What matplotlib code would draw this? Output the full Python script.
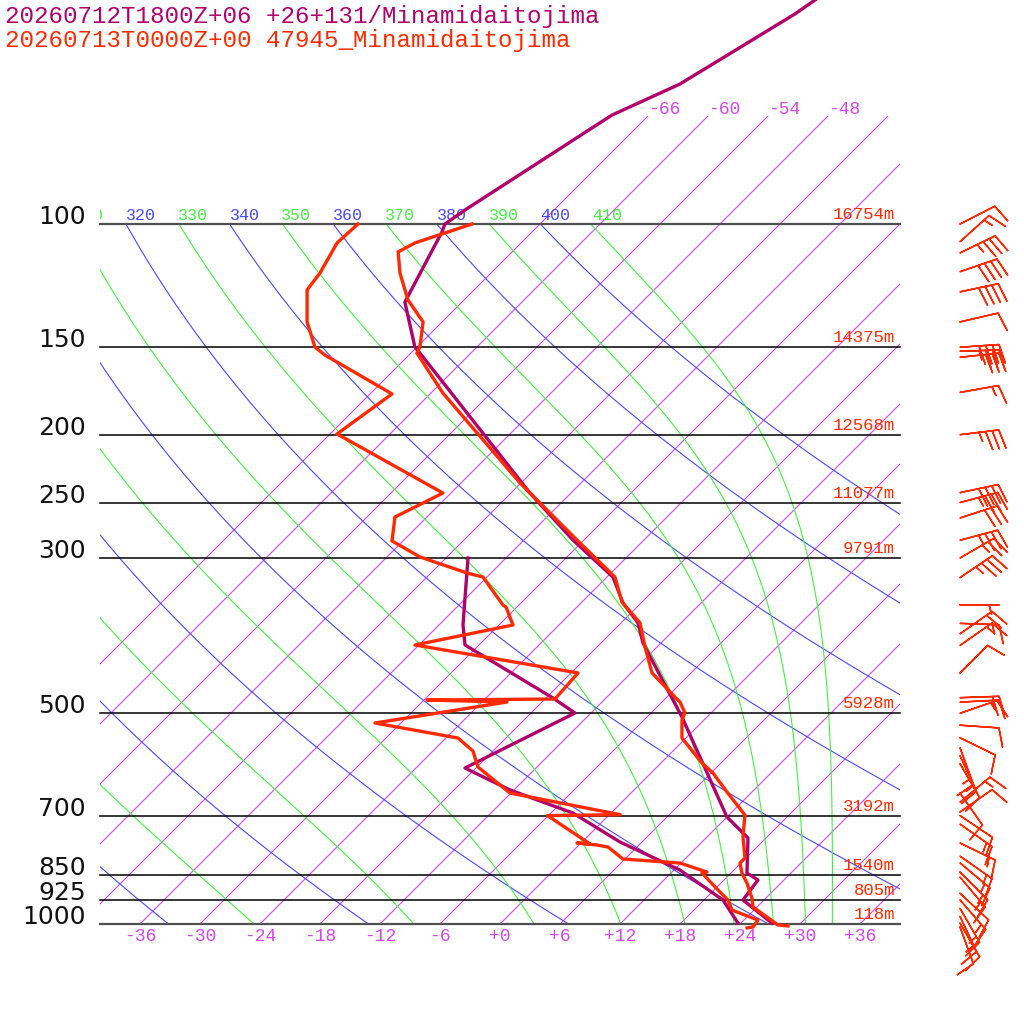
import numpy as np
import matplotlib
matplotlib.use('Agg')
import matplotlib.pyplot as plt
from matplotlib.patches import Rectangle

# ---- values ----
title_model = '20260712T1800Z+06 +26+131/Minamidaitojima'
title_obs = '20260713T0000Z+00 47945_Minamidaitojima'

levels = [100, 150, 200, 250, 300, 500, 700, 850, 925, 1000]
heights = ['16754m', '14375m', '12568m', '11077m', '9791m',
           '5928m', '3192m', '1540m', '805m', '118m']

# model (purple) temperature
model_p = [47.5, 50.1, 63.1, 69.9, 95.5, 100.0, 102.7, 129.3, 149.9, 152.9,
           169.8, 242.3, 282.8, 319.4, 347.9, 371.5, 396.8, 506.2, 703.4,
           753.6, 845.7, 865.4, 924.2, 996.9]
model_t = [-60.8, -61.5, -66.0, -69.7, -74.9, -75.5, -75.0, -71.7, -66.2, -65.1,
           -59.4, -40.1, -31.1, -23.4, -19.8, -16.3, -13.8, -2.5, 12.0,
           16.2, 19.6, 21.4, 21.9, 27.1]
# model dewpoint
model_td_p = [300.0, 374.0, 399.4, 475.5, 499.6, 598.7, 643.5, 694.2, 763.6,
              837.4, 924.2, 996.9]
model_td = [-39.8, -33.6, -31.4, -17.3, -13.6, -19.1, -12.4, -3.8, 3.8,
            12.6, 19.9, 23.7]

# observed (red) temperature
obs_p = [100.0, 106.4, 109.6, 117.5, 128.4, 138.0, 149.9, 152.9, 174.4, 234.4,
         282.8, 319.4, 346.8, 371.5, 402.0, 437.9, 474.0, 481.8, 499.6, 511.2,
         542.4, 588.9, 608.6, 647.8, 698.8, 751.2, 804.9, 818.3, 845.7, 874.0,
         918.1, 945.7, 1003.3, 1006.6]
obs_t = [-72.8, -76.6, -77.4, -75.1, -71.6, -67.9, -65.7, -65.4, -58.8, -42.1,
         -30.7, -23.2, -20.0, -16.1, -13.2, -9.9, -5.2, -4.2, -2.6, -2.2,
         -0.4, 4.1, 6.2, 9.5, 13.6, 15.6, 17.9, 17.9, 19.1, 20.6,
         22.6, 23.6, 27.9, 29.0]
# observed dewpoint
obs_td_p = [100.0, 106.4, 117.5, 124.2, 138.0, 149.9, 153.9, 174.9, 199.5, 242.3,
            262.2, 283.7, 299.0, 315.2, 319.4, 350.2, 352.5, 374.0, 399.4, 437.9,
            477.1, 478.7, 481.8, 516.3, 542.4, 566.1, 596.7, 650.0, 698.0, 700.0,
            768.6, 766.1, 771.2, 776.3, 807.6, 818.3, 842.9, 845.7, 900.2, 924.2,
            955.2, 987.1, 1010.0, 1013.0]
obs_td = [-84.2, -84.4, -83.1, -82.7, -79.5, -76.2, -74.4, -63.8, -65.3, -48.8,
          -51.2, -49.1, -44.7, -38.4, -36.4, -31.6, -31.1, -28.6, -36.4, -17.3,
          -17.0, -29.7, -21.5, -32.6, -22.8, -20.0, -17.9, -12.1, 1.1, -6.1,
          1.0, -0.4, 1.8, 3.1, 5.8, 11.9, 15.5, 15.1, 18.8, 20.4,
          21.8, 25.4, 25.6, 25.1]

# observed winds: pressure, direction (deg), speed (kt)
wind_p = [100, 106, 110, 117, 125, 138, 150, 152, 155, 174,
          200, 242, 250, 263, 283, 300, 320, 350, 372, 385,
          400, 438, 475, 482, 500, 520, 542, 560, 575, 590,
          650, 670, 692, 700, 720, 766, 800, 818, 843, 857,
          904, 924, 950, 975, 997, 1010]
wind_dir = [63, 48, 64, 71, 78, 77, 86, 88, 84, 80,
            83, 78, 75, 72, 75, 60, 56, 90, 92, 55,
            55, 45, 88, 87, 71, 94, 116, 160, 155, 150,
            145, 50, 55, 124, 125, 116, 125, 130, 135, 140,
            133, 139, 150, 155, 150, 160]
wind_kt = [10, 15, 35, 40, 40, 10, 40, 35, 30, 15,
           35, 40, 35, 30, 35, 25, 35, 5, 15, 20,
           15, 10, 20, 15, 15, 10, 10, 15, 15, 10,
           10, 15, 10, 10, 15, 15, 15, 15, 15, 15,
           10, 15, 15, 15, 10, 10]

isotherms = np.arange(-66, 37, 6)
dry_thetas = np.arange(240, 401, 20)
moist_thetas = np.arange(250, 411, 20)

SKEW = 30.4          # deg C shift per ln(p) unit
P_TOP = 100 * np.exp(-224 / 304)
P_BOT = 100 * np.exp(800 / 304)

C_MODEL = '#B0006A'
C_OBS = '#FF2A00'
C_ISO = '#D048E8'
C_DRY = '#4848FF'
C_MOIST = '#44F044'


def skew_x(t, p):
    return np.asarray(t, float) + SKEW * np.log(1000.0 / np.asarray(p, float))


def theta_e(tk, p):
    # Bolton (1980) equivalent potential temperature of saturated air
    tc = tk - 273.15
    e = 6.112 * np.exp(17.67 * tc / (tc + 243.5))
    r = 622.0 * e / (p - e)
    return tk * (1000.0 / p) ** (0.2854 * (1 - 0.28e-3 * r)) * \
        np.exp((3.376 / tk - 0.00254) * r * (1 + 0.81e-3 * r))


def moist_adiabat(th, p):
    lo = np.full_like(p, 120.0)
    hi = np.full_like(p, 330.0)
    for _ in range(60):
        mid = 0.5 * (lo + hi)
        big = theta_e(mid, p) > th
        hi = np.where(big, mid, hi)
        lo = np.where(big, lo, mid)
    return 0.5 * (lo + hi) - 273.15


fig = plt.figure(figsize=(10.24, 10.24), dpi=100)
ax = fig.add_axes([0, 0, 1, 1])
ax.set_yscale('log')
ax.set_xlim(-50, 52.4)
ax.set_ylim(P_BOT, P_TOP)
ax.axis('off')

box = Rectangle((-40, 70), 80, 930, transform=ax.transData)
tbox = Rectangle((-40, 30), 80, 2000, transform=ax.transData)

# isotherms
p_iso = np.array([1000.0, 70.0])
for t in isotherms:
    ln, = ax.plot(skew_x(t, p_iso), p_iso, color=C_ISO, lw=0.8)
    ln.set_clip_path(box)

# dry and moist adiabats
pp = np.geomspace(1000, 100, 200)
for th in dry_thetas:
    t = th * (pp / 1000.0) ** 0.2857 - 273.15
    ln, = ax.plot(skew_x(t, pp), pp, color=C_DRY, lw=0.8)
    ln.set_clip_path(box)
for th in moist_thetas:
    t = moist_adiabat(th, pp)
    ln, = ax.plot(skew_x(t, pp), pp, color=C_MOIST, lw=0.8)
    ln.set_clip_path(box)

# isobars
for p in levels:
    edge = p in (100, 1000)
    ax.plot([-40, 40], [p, p], color='#505050' if edge else 'black',
            lw=1.6 if edge else 1.1, zorder=3)

mono = 'Liberation Mono'

# theta labels along 100 hPa
lab_p = 100 * np.exp(-4 / 304)
for th in range(310, 411, 10):
    t = th * 0.1 ** 0.2857 - 273.15
    col = C_DRY if th % 20 == 0 else C_MOIST
    tx = ax.text(skew_x(t, 100), lab_p, str(th), color=col, family=mono,
                 fontsize=12, ha='left', va='baseline')
    tx.set_clip_path(tbox)
    tx.set_clip_on(True)

# isotherm labels at top and bottom
for t in isotherms[:4]:
    ax.text(skew_x(t, 70), 100 * np.exp(-114 / 304), '%d' % t, color=C_ISO,
            family=mono, fontsize=13, ha='left', va='center')
for t in isotherms[5:]:
    ax.text(skew_x(t, 1000), 100 * np.exp(713 / 304), '%+d' % t, color=C_ISO,
            family=mono, fontsize=13, ha='center', va='center')

# pressure and height labels
for p, h in zip(levels, heights):
    ax.text(-41.4, p, str(p), color='#111111',
            family='DejaVu Sans', fontsize=18, ha='right', va='baseline')
    ax.text(39.5, p * np.exp(-2 / 304), h, color=C_OBS, family=mono,
            fontsize=12.5, ha='right', va='bottom')

# profiles
ax.plot(skew_x(model_t, model_p), model_p, color=C_MODEL, lw=2.4, zorder=5,
        clip_on=False)
ax.plot(skew_x(model_td, model_td_p), model_td_p, color=C_MODEL, lw=2.4, zorder=5)
ax.plot(skew_x(obs_t, obs_p), obs_p, color=C_OBS, lw=2.4, zorder=6)
ax.plot(skew_x(obs_td, obs_td_p), obs_td_p, color=C_OBS, lw=2.4, zorder=6)

# wind barbs
wd = np.radians(wind_dir)
ws = np.array(wind_kt, float)
u = -ws * np.sin(wd)
v = -ws * np.cos(wd)
ax.barbs(np.full(len(wind_p), 46.0), wind_p, u, v, length=7.5,
         sizes=dict(height=0.48, spacing=0.17),
         color=C_OBS, linewidth=1.1, zorder=7)

fig.text(5 / 1024, 1 - 17 / 1024, title_model, color=C_MODEL, family=mono,
         fontsize=17.4, ha='left', va='center')
fig.text(5 / 1024, 1 - 41 / 1024, title_obs, color=C_OBS, family=mono,
         fontsize=17.4, ha='left', va='center')

fig.savefig('out.png', dpi=100, facecolor='white')
